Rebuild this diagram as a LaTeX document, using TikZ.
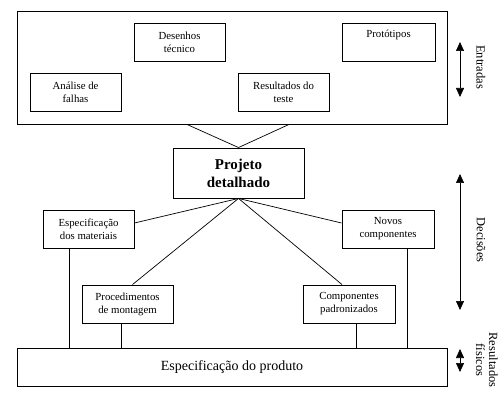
\documentclass[tikz,border=0pt]{standalone}
\usepackage{fontspec}
\setmainfont{Liberation Serif}
\usetikzlibrary{arrows.meta,calc}
\begin{document}
\begin{tikzpicture}[x=1pt,y=-1pt,
  box/.style={draw,line width=0.9pt,minimum width=91pt,minimum height=38pt,inner sep=0pt,align=center,font=\fontsize{10.8}{13}\selectfont},
  bigbox/.style={draw,line width=0.9pt,minimum width=430pt,inner sep=0pt},
  conn/.style={line width=0.7pt},
  dbl/.style={line width=0.7pt,{Triangle[length=9pt,width=8pt]}-{Triangle[length=9pt,width=8pt]}},
  side/.style={rotate=-90,align=center,font=\fontsize{12.5}{13}\selectfont}]
\useasboundingbox (0,0) rectangle (504,401);
% inputs frame
\node[bigbox,minimum height=113pt] (outer) at (232,67.5) {};
\node[box] (desenhos) at (179.5,42) {Desenhos\\técnico};
\node[box,minimum width=93pt] (prototipos) at (388.5,42) {Protótipos\\[0pt]\strut};
\node[box] (analise) at (75.5,92) {Análise de\\falhas};
\node[box] (resultados) at (283.5,92) {Resultados do\\teste};
% central node
\node[draw,line width=0.9pt,minimum width=131pt,minimum height=50pt,inner sep=0pt,align=center,font=\fontsize{15}{18}\selectfont\bfseries] (projeto) at (238.5,173) {Projeto\\detalhado};
% decisions
\node[box] (especmat) at (88.5,229) {Especificação\\dos materiais};
\node[box,minimum width=92pt] (novos) at (388,229) {Novos\\componentes};
\node[box] (proced) at (127.5,304) {Procedimentos\\de montagem};
\node[box,minimum width=92pt] (compad) at (349,304) {Componentes\\padronizados};
% product
\node[bigbox,minimum height=38pt,font=\fontsize{14}{16}\selectfont] (produto) at (232,367) {Especificação do produto};
% connectors
\draw[conn] ([xshift=-45pt]outer.south) -- (projeto.north);
\draw[conn] ([xshift=57pt]outer.south) -- (projeto.north);
\draw[conn] (projeto.south) -- ([yshift=6pt]especmat.east);
\draw[conn] (projeto.south) -- ([yshift=6pt]novos.west);
\draw[conn] (projeto.south) -- ([xshift=5pt]proced.north);
\draw[conn] (projeto.south) -- ([xshift=-7pt]compad.north);
\draw[conn] ([xshift=-19.5pt]especmat.south) -- ([xshift=-19.5pt]especmat.south |- produto.north);
\draw[conn] ([xshift=19pt]novos.south) -- ([xshift=19pt]novos.south |- produto.north);
\draw[conn] ([xshift=-6.5pt]proced.south) -- ([xshift=-6.5pt]proced.south |- produto.north);
\draw[conn] ([xshift=7pt]compad.south) -- ([xshift=7pt]compad.south |- produto.north);
% side arrows
\coordinate (e1) at (460,42); \coordinate (e2) at (460,97);
\coordinate (d1) at (460,174); \coordinate (d2) at (460,310);
\coordinate (r1) at (460,349); \coordinate (r2) at (460,372);
\draw[dbl] (e1) -- (e2);
\draw[dbl] (d1) -- (d2);
\draw[dbl] (r1) -- (r2);
\node[side] (lentradas) at (481,67) {Entradas};
\node[side] (ldecisoes) at (481,240) {Decisões};
\node[side] (lresult) at (487,360) {Resultados\\físicos};
\end{tikzpicture}
\end{document}
